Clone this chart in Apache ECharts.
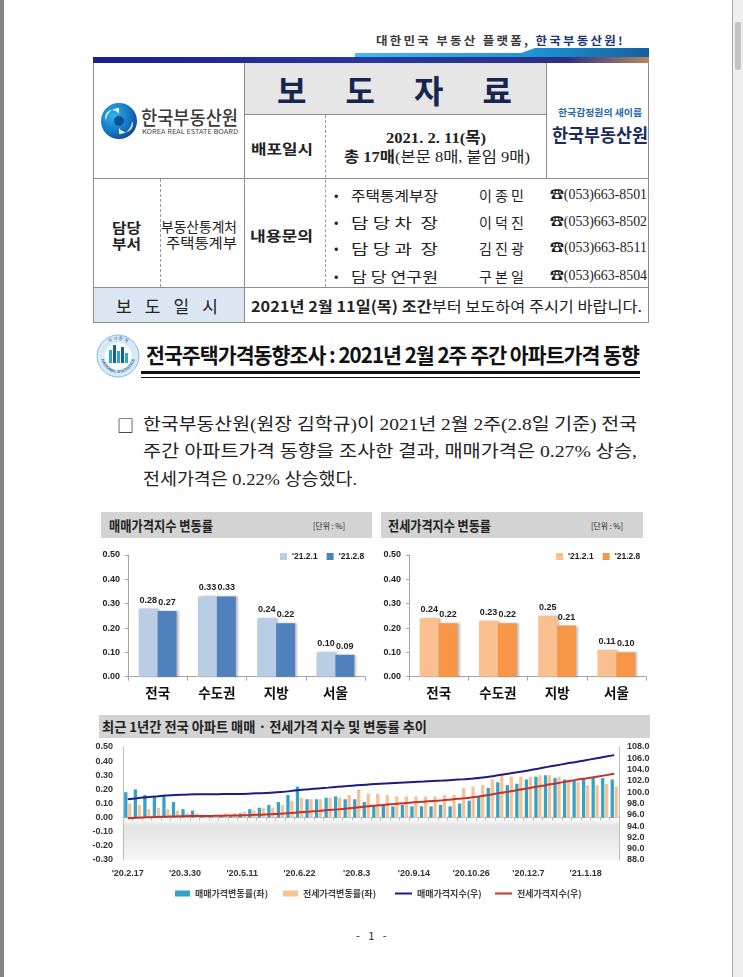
<!DOCTYPE html>
<html><head><meta charset="utf-8">
<script src="https://cdn.jsdelivr.net/npm/echarts/dist/echarts.min.js"></script>
<style>
body{margin:0;width:743px;height:977px;position:relative;background:#fff;overflow:hidden;font-family:'Noto Sans CJK KR',sans-serif;color:#222}
.t{position:absolute;white-space:nowrap;line-height:1;display:inline-block;transform-origin:0 50%}
.b{font-weight:700}
.sr{font-family:'Liberation Serif','Noto Sans CJK KR',serif}
.ln{position:absolute;background:#8c8c8c}
.fx{position:absolute;display:flex;justify-content:space-between;line-height:1;white-space:nowrap}
</style></head><body>
<!-- frame -->
<div style="position:absolute;left:0;top:0;width:4px;height:977px;background:#858585"></div>
<div style="position:absolute;left:732px;top:0;width:11px;height:977px;background:#efefef;border-left:1px solid #a8a8a8"></div>
<div style="position:absolute;left:735px;top:22px;width:6px;height:48px;background:#c3c3c3;border-radius:2px"></div>

<!-- tagline -->
<div class="t b" data-w="249" style="left:376px;top:35px;font-size:11px;letter-spacing:2px;color:#3a3a3a">대한민국 부동산 플랫폼, <span style="color:#1d3578">한국부동산원!</span></div>
<!-- stripe -->
<svg style="position:absolute;left:0;top:0" width="743" height="70">
<defs>
<linearGradient id="cy" x1="0" x2="1"><stop offset="0" stop-color="#45bde6"/><stop offset="0.6" stop-color="#1f95d2"/><stop offset="1" stop-color="#13609f"/></linearGradient>
<linearGradient id="nv" x1="0" x2="1"><stop offset="0" stop-color="#1b1f8c"/><stop offset="0.5" stop-color="#2a36a4"/><stop offset="0.85" stop-color="#2b2f86"/><stop offset="1" stop-color="#b98762"/></linearGradient>
</defs>
<polygon points="355,53 521,53 535,48 649,48 649,58 355,58" fill="url(#cy)"/>
<rect x="93" y="57" width="556" height="6" fill="url(#nv)"/>
</svg>

<!-- table -->
<div style="position:absolute;left:244px;top:63px;width:302px;height:51px;background:#e6e6e6"></div>
<div style="position:absolute;left:93px;top:287px;width:151px;height:36px;background:#dce6f2"></div>
<div class="ln" style="left:93px;top:63px;width:1px;height:260px"></div>
<div class="ln" style="left:648px;top:63px;width:1px;height:260px"></div>
<div class="ln" style="left:93px;top:322px;width:556px;height:1px"></div>
<div class="ln" style="left:244px;top:63px;width:1px;height:260px"></div>
<div class="ln" style="left:546px;top:63px;width:1px;height:115px"></div>
<div class="ln" style="left:244px;top:114px;width:302px;height:1px"></div>
<div class="ln" style="left:93px;top:178px;width:556px;height:1px"></div>
<div class="ln" style="left:93px;top:287px;width:556px;height:1px"></div>
<div style="position:absolute;left:325px;top:115px;height:172px;border-left:1px dashed #9a9a9a"></div>
<div style="position:absolute;left:160px;top:179px;height:108px;border-left:1px dashed #9a9a9a"></div>

<div class="fx b" style="left:277px;top:73px;width:235px;font-size:32px;color:#17254f"><span>보</span><span>도</span><span>자</span><span>료</span></div>
<div class="t b" data-w="62" style="left:251px;top:141px;font-size:14px">배포일시</div>
<div class="t b sr" data-w="100" style="left:386px;top:130px;font-size:15.5px">2021. 2. 11(목)</div>
<div class="t sr" data-w="186" style="left:344px;top:150px;font-size:15px"><b>총 17매</b>(본문 8매, 붙임 9매)</div>
<div class="t b" data-w="84" style="left:558px;top:108px;font-size:9.5px;color:#2266aa">한국감정원의 새이름</div>
<div class="t b" data-w="96" style="left:552px;top:125px;font-size:18px;color:#1c2c5c">한국부동산원</div>

<svg style="position:absolute;left:100px;top:102px" width="38" height="38" viewBox="0 0 38 38">
<defs><radialGradient id="lg" cx="0.35" cy="0.35" r="0.8"><stop offset="0" stop-color="#2cb5e8"/><stop offset="0.6" stop-color="#1472c0"/><stop offset="1" stop-color="#0b3d86"/></radialGradient></defs>
<circle cx="19" cy="19" r="18" fill="url(#lg)"/>
<path d="M19 6 A13 13 0 0 0 6 19 A7 7 0 0 1 19 12 Z" fill="#fff" opacity="0.92"/>
<path d="M19 32 A13 13 0 0 0 32 19 A7 7 0 0 1 19 26 Z" fill="#fff" opacity="0.92"/>
<circle cx="19" cy="19" r="5" fill="#0e4f9e"/>
</svg>
<div class="t" data-w="97" style="left:141px;top:107px;font-size:19px;color:#3a3a3a;font-weight:500">한국부동산원</div>
<div class="t" data-w="96" style="left:142px;top:128px;font-size:6.5px;color:#444">KOREA REAL ESTATE BOARD</div>

<div class="t b" data-w="29" style="left:112px;top:220px;font-size:14px">담당</div>
<div class="t b" data-w="29" style="left:112px;top:236px;font-size:14px">부서</div>
<div class="t" data-w="76" style="left:161px;top:220px;font-size:13.5px">부동산통계처</div>
<div class="t" data-w="71" style="left:166px;top:236px;font-size:13.5px">주택통계부</div>
<div class="t b" data-w="63" style="left:250px;top:228px;font-size:14px">내용문의</div>

<div class="t" style="left:334px;top:188px;font-size:13px">•</div>
<div class="t" style="left:334px;top:215px;font-size:13px">•</div>
<div class="t" style="left:334px;top:241px;font-size:13px">•</div>
<div class="t" style="left:334px;top:269px;font-size:13px">•</div>
<div class="t" data-w="87" style="left:351px;top:188px;font-size:14px">주택통계부장</div>
<div class="t" data-w="87" style="left:351px;top:215px;font-size:14px">담 당 차 &nbsp;장</div>
<div class="t" data-w="87" style="left:351px;top:241px;font-size:14px">담 당 과 &nbsp;장</div>
<div class="t" data-w="87" style="left:351px;top:269px;font-size:14px">담 당 연구원</div>
<div class="t" data-w="45" style="left:479px;top:188px;font-size:14px">이 종 민</div>
<div class="t" data-w="45" style="left:479px;top:215px;font-size:14px">이 덕 진</div>
<div class="t" data-w="45" style="left:479px;top:241px;font-size:14px">김 진 광</div>
<div class="t" data-w="45" style="left:479px;top:269px;font-size:14px">구 본 일</div>
<div class="t sr" data-w="97" style="left:550px;top:188px;font-size:14px"><b>☎</b>(053)663-8501</div>
<div class="t sr" data-w="97" style="left:550px;top:215px;font-size:14px"><b>☎</b>(053)663-8502</div>
<div class="t sr" data-w="97" style="left:550px;top:241px;font-size:14px"><b>☎</b>(053)663-8511</div>
<div class="t sr" data-w="97" style="left:550px;top:269px;font-size:14px"><b>☎</b>(053)663-8504</div>

<div class="fx" style="left:116px;top:297px;width:102px;font-size:17px"><span>보</span><span>도</span><span>일</span><span>시</span></div>
<div class="t" data-w="391" style="left:251px;top:298px;font-size:15px"><b>2021년 2월 11일(목) 조간</b>부터 보도하여 주시기 바랍니다.</div>

<!-- title banner -->
<svg style="position:absolute;left:96px;top:333px" width="44" height="46" viewBox="0 0 44 46">
<defs><path id="arcB" d="M5 23 A17 17 0 0 0 39 23"/><path id="arcT" d="M6 23 A16 16 0 0 1 38 23"/></defs>
<circle cx="22" cy="23" r="21" fill="#d8eaf5" stroke="#8fbad8" stroke-width="1"/>
<circle cx="22" cy="23" r="13.5" fill="#fff"/>
<rect x="13" y="17" width="3" height="13" fill="#2aa7c9"/>
<rect x="17" y="12" width="3" height="18" fill="#1b5d9c"/>
<rect x="21" y="18" width="3" height="12" fill="#2aa7c9"/>
<rect x="25" y="14" width="3" height="16" fill="#1b5d9c"/>
<rect x="29" y="20" width="3" height="10" fill="#2aa7c9"/>
<text font-size="4.2" fill="#2b6c9e" font-family="Liberation Sans" font-weight="bold"><textPath href="#arcB" startOffset="50%" text-anchor="middle">NATIONAL STATISTICS</textPath></text>
<text font-size="4.5" fill="#2b6c9e" font-family="Noto Sans CJK KR"><textPath href="#arcT" startOffset="50%" text-anchor="middle">국 가 통 계</textPath></text>
</svg>
<div class="t b" data-w="493" style="left:146px;top:344px;font-size:21px;color:#111;letter-spacing:-1px">전국주택가격동향조사 : 2021년 2월 2주 주간 아파트가격 동향</div>
<div style="position:absolute;left:141px;top:371px;width:499px;height:3px;background:#111"></div>
<div style="position:absolute;left:141px;top:377px;width:499px;height:1px;background:#111"></div>

<!-- paragraph -->
<div class="t" style="left:117px;top:416px;font-size:17px">□</div>
<div class="t sr" data-w="494" style="left:143px;top:416px;font-size:17px">한국부동산원(원장 김학규)이 2021년 2월 2주(2.8일 기준) 전국</div>
<div class="t sr" data-w="494" style="left:143px;top:443px;font-size:17px">주간 아파트가격 동향을 조사한 결과, 매매가격은 0.27% 상승,</div>
<div class="t sr" data-w="214" style="left:143px;top:471px;font-size:17px">전세가격은 0.22% 상승했다.</div>

<!-- chart title bars -->
<div style="position:absolute;left:101px;top:512px;width:271px;height:26px;background:#d3d3d3"></div>
<div class="t b" data-w="104" style="left:109px;top:518px;font-size:14px">매매가격지수 변동률</div>
<div class="t" data-w="32" style="left:313px;top:522px;font-size:8px">[단위 : %]</div>
<div style="position:absolute;left:381px;top:512px;width:262px;height:26px;background:#d3d3d3"></div>
<div class="t b" data-w="103" style="left:388px;top:518px;font-size:14px">전세가격지수 변동률</div>
<div class="t" data-w="32" style="left:591px;top:522px;font-size:8px">[단위 : %]</div>
<div style="position:absolute;left:99px;top:715px;width:551px;height:23px;background:#d3d3d3"></div>
<div class="t b" data-w="325" style="left:102px;top:720px;font-size:13.5px">최근 1년간 전국 아파트 매매 · 전세가격 지수 및 변동률 추이</div>

<div id="c1" style="position:absolute;left:95px;top:540px;width:283px;height:170px"></div>
<div id="c2" style="position:absolute;left:378px;top:540px;width:277px;height:170px"></div>
<div id="c3" style="position:absolute;left:80px;top:742px;width:580px;height:165px"></div>

<div class="t" style="left:356px;top:930px;font-size:11px;letter-spacing:3px">- 1 -</div>

<script>
// ---- data ----
const regions = ['전국', '수도권', '지방', '서울'];
const weekLabels = ["'21.2.1", "'21.2.8"];
const saleChgWeek1 = [0.28, 0.33, 0.24, 0.10];
const saleChgWeek2 = [0.27, 0.33, 0.22, 0.09];
const jeonseChgWeek1 = [0.24, 0.23, 0.25, 0.11];
const jeonseChgWeek2 = [0.22, 0.22, 0.21, 0.10];

const weeks = ["'20.2.17","'20.2.24","'20.3.2","'20.3.9","'20.3.16","'20.3.23","'20.3.30","'20.4.6","'20.4.13","'20.4.20","'20.4.27",
"'20.5.4","'20.5.11","'20.5.18","'20.5.25","'20.6.1","'20.6.8","'20.6.15","'20.6.22","'20.6.29","'20.7.6","'20.7.13","'20.7.20","'20.7.27",
"'20.8.3","'20.8.10","'20.8.17","'20.8.24","'20.8.31","'20.9.7","'20.9.14","'20.9.21","'20.9.28","'20.10.5","'20.10.12","'20.10.19","'20.10.26",
"'20.11.2","'20.11.9","'20.11.16","'20.11.23","'20.11.30","'20.12.7","'20.12.14","'20.12.21","'20.12.28","'21.1.4","'21.1.11","'21.1.18","'21.1.25","'21.2.1","'21.2.8"];
const saleChg = [0.18,0.20,0.16,0.15,0.16,0.11,0.06,0.05,0.02,0.01,0.01,0.01,0.03,0.06,0.07,0.09,0.11,0.16,0.22,0.13,0.13,0.14,0.15,0.13,0.13,0.11,
0.09,0.09,0.08,0.09,0.08,0.08,0.08,0.09,0.08,0.10,0.12,0.15,0.21,0.25,0.23,0.24,0.27,0.29,0.30,0.28,0.27,0.26,0.28,0.28,0.28,0.27];
const jeonseChg = [0.10,0.09,0.06,0.07,0.06,0.05,0.03,0.03,0.02,0.02,0.03,0.03,0.04,0.05,0.07,0.07,0.09,0.12,0.14,0.13,0.13,0.14,0.14,0.16,0.20,0.17,
0.17,0.16,0.15,0.15,0.15,0.15,0.15,0.16,0.16,0.21,0.22,0.23,0.27,0.30,0.29,0.29,0.29,0.30,0.30,0.29,0.27,0.25,0.23,0.23,0.24,0.22];
const saleIdx = [98.75,98.95,99.10,99.25,99.40,99.51,99.57,99.62,99.64,99.65,99.66,99.67,99.70,99.76,99.83,99.92,100.03,100.19,100.41,100.54,100.67,100.81,100.96,101.09,101.22,101.34,
101.45,101.54,101.63,101.72,101.81,101.89,101.98,102.06,102.15,102.27,102.40,102.56,102.78,103.05,103.30,103.56,103.85,104.16,104.48,104.78,105.07,105.35,105.66,105.96,106.27,106.56];
const jeonseIdx = [95.40,95.49,95.55,95.61,95.67,95.72,95.75,95.78,95.80,95.82,95.85,95.88,95.91,95.96,96.03,96.10,96.18,96.30,96.44,96.56,96.69,96.83,96.96,97.12,97.31,97.48,
97.63,97.78,97.92,98.06,98.20,98.33,98.45,98.57,98.71,98.89,99.08,99.30,99.56,99.85,100.13,100.42,100.71,101.01,101.31,101.60,101.88,102.18,102.43,102.70,102.98,103.25];
const seriesNames = ['매매가격변동률(좌)', '전세가격변동률(좌)', '매매가격지수(우)', '전세가격지수(우)'];

// ---- text fitting ----
function fit(){
  document.querySelectorAll('[data-w]').forEach(el=>{
    el.style.transform='none';
    const w=el.getBoundingClientRect().width;
    if(w>0) el.style.transform='scaleX('+(+el.dataset.w/w)+')';
  });
}
fit();
if(document.fonts&&document.fonts.ready) document.fonts.ready.then(fit);

const FONT = "'Noto Sans CJK KR', sans-serif";
const NUMFONT = "'Liberation Sans', Arial, sans-serif";

function barChart(id, gridLeft, gridWidth, legendLeft, c1, c2, d1, d2){
  const ch = echarts.init(document.getElementById(id), null, {renderer:'canvas'});
  const lab = {show:true, position:'top', distance:4, formatter:p=>p.value.toFixed(2), fontSize:9, fontWeight:'bold', color:'#222', fontFamily:NUMFONT};
  const shadow = {shadowColor:'rgba(0,0,0,0.25)', shadowBlur:2, shadowOffsetX:2, shadowOffsetY:0};
  ch.setOption({
    animation:false,
    textStyle:{fontFamily:FONT},
    legend:{orient:'horizontal', left:legendLeft, top:7, width:110, itemWidth:7, itemHeight:7, itemGap:9, itemTextGap:3, icon:'rect',
      textStyle:{fontSize:8.5, fontWeight:'bold', color:'#222', fontFamily:NUMFONT}, data:weekLabels},
    grid:{left:gridLeft, top:15, width:gridWidth, height:121.7, outerBoundsMode:'none', containLabel:false},
    xAxis:{type:'category', data:regions,
      axisLine:{lineStyle:{color:'#a6a6a6'}},
      axisTick:{show:true, length:4, lineStyle:{color:'#a6a6a6'}},
      axisLabel:{fontSize:13.5, fontWeight:'bold', color:'#111', margin:9, fontFamily:FONT}},
    yAxis:{type:'value', min:0, max:0.5, interval:0.1,
      axisLine:{show:true, lineStyle:{color:'#a6a6a6'}},
      axisTick:{show:true, length:3, lineStyle:{color:'#a6a6a6'}},
      splitLine:{show:false},
      axisLabel:{formatter:v=>v.toFixed(2), fontSize:9, fontWeight:'bold', color:'#222', margin:8, fontFamily:NUMFONT}},
    series:[
      {name:weekLabels[0], type:'bar', data:d1, barGap:'0%', barCategoryGap:'36%', itemStyle:Object.assign({color:c1}, shadow), label:lab},
      {name:weekLabels[1], type:'bar', data:d2, itemStyle:Object.assign({color:c2}, shadow), label:lab}
    ]
  });
}
barChart('c1', 33, 237, 180, '#b9cde5', '#4f81bd', saleChgWeek1, saleChgWeek2);
barChart('c2', 31, 237, 173, '#fac090', '#f79646', jeonseChgWeek1, jeonseChgWeek2);

const c3 = echarts.init(document.getElementById('c3'), null, {renderer:'canvas'});
const axTxt = {fontSize:9, fontWeight:'bold', color:'#333', fontFamily:NUMFONT};
const lgTxt = {fontSize:9, fontWeight:'bold', color:'#404040', fontFamily:FONT};
c3.setOption({
  animation:false,
  textStyle:{fontFamily:FONT},
  legend:[
    {data:[seriesNames[0]], left:90, top:142, icon:'rect', itemWidth:15, itemHeight:6, itemTextGap:3, textStyle:lgTxt},
    {data:[seriesNames[1]], left:198, top:142, icon:'rect', itemWidth:15, itemHeight:6, itemTextGap:3, textStyle:lgTxt},
    {data:[seriesNames[2]], left:310, top:142, icon:'rect', itemWidth:17, itemHeight:2, itemTextGap:2, textStyle:lgTxt},
    {data:[seriesNames[3]], left:410, top:142, icon:'rect', itemWidth:17, itemHeight:2, itemTextGap:2, textStyle:lgTxt}
  ],
  grid:{left:43, top:5, width:496, height:113, show:true, borderWidth:0, outerBoundsMode:'none', containLabel:false,
    backgroundColor:{type:'linear', x:0, y:0, x2:0, y2:1, colorStops:[
      {offset:0, color:'#ffffff'}, {offset:0.63, color:'#ffffff'}, {offset:0.7, color:'#e2e2e2'}, {offset:1, color:'#f7f7f7'}]}},
  xAxis:[
    {type:'category', data:weeks,
      axisLine:{onZero:true, onZeroAxisIndex:0, lineStyle:{color:'#bdbdbd'}},
      axisTick:{show:true, interval:0, length:3, lineStyle:{color:'#bdbdbd'}},
      axisLabel:{show:false}},
    {type:'category', data:weeks, position:'bottom',
      axisLine:{show:false, onZero:false}, axisTick:{show:false},
      axisLabel:Object.assign({interval:5, margin:9}, axTxt)}
  ],
  yAxis:[
    {type:'value', min:-0.3, max:0.5, interval:0.1,
      axisLine:{show:true, lineStyle:{color:'#bdbdbd'}}, axisTick:{show:false}, splitLine:{show:false},
      axisLabel:Object.assign({formatter:v=>v.toFixed(2), margin:10}, axTxt)},
    {type:'value', min:88, max:108, interval:2, position:'right',
      axisLine:{show:true, lineStyle:{color:'#bdbdbd'}}, axisTick:{show:false}, splitLine:{show:false},
      axisLabel:Object.assign({formatter:v=>v.toFixed(1), margin:8}, axTxt)}
  ],
  series:[
    {name:seriesNames[0], type:'bar', data:saleChg, barWidth:3.3, barGap:'20%', itemStyle:{color:'#33a3c8'}},
    {name:seriesNames[1], type:'bar', data:jeonseChg, barWidth:3.3, itemStyle:{color:'#f7c396'}},
    {name:seriesNames[2], type:'line', yAxisIndex:1, data:saleIdx, smooth:true, showSymbol:false,
      lineStyle:{color:'#1e1b86', width:2}, itemStyle:{color:'#1e1b86'}},
    {name:seriesNames[3], type:'line', yAxisIndex:1, data:jeonseIdx, smooth:true, showSymbol:false,
      lineStyle:{color:'#c3322c', width:2}, itemStyle:{color:'#c3322c'}}
  ]
});
</script>
</body></html>
